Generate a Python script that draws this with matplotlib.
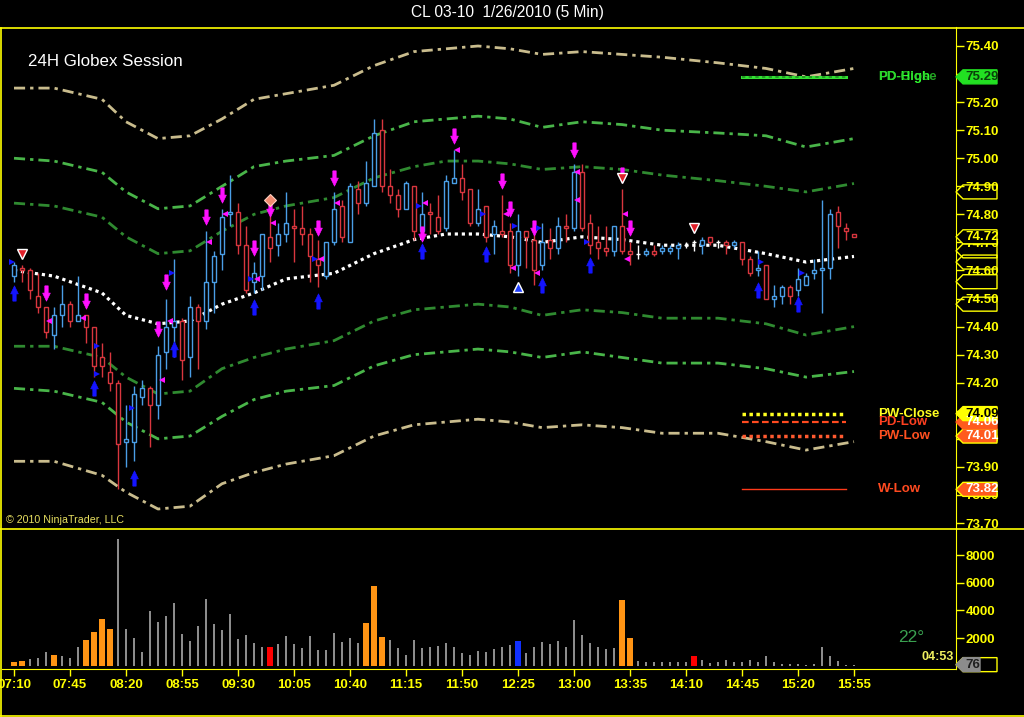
import numpy as np
import matplotlib
matplotlib.use("Agg")
import matplotlib.pyplot as plt
from matplotlib.patches import Polygon
from matplotlib.lines import Line2D
import matplotlib.transforms as mtrans

plt.rcParams['font.family'] = ['Liberation Sans', 'DejaVu Sans']

# ---- data (CL 03-10, 5 min bars from 07:10) ----
opens = [74.58, 74.61, 74.60, 74.51, 74.47, 74.37, 74.44, 74.48, 74.42, 74.44,
         74.40, 74.29, 74.24, 74.20, 73.99, 73.99, 74.15, 74.18, 74.12, 74.31,
         74.40, 74.42, 74.29, 74.47, 74.42, 74.56, 74.66, 74.80, 74.81, 74.69,
         74.56, 74.58, 74.72, 74.69, 74.73, 74.76, 74.75, 74.73, 74.64, 74.58,
         74.70, 74.83, 74.70, 74.89, 74.84, 74.90, 75.10, 74.90, 74.87, 74.82,
         74.90, 74.74, 74.81, 74.79, 74.75, 74.91, 74.93, 74.89, 74.77, 74.83,
         74.73, 74.74, 74.74, 74.62, 74.74, 74.71, 74.62, 74.71, 74.68, 74.76,
         74.75, 74.95, 74.77, 74.70, 74.68, 74.67, 74.76, 74.67, 74.66, 74.66,
         74.67, 74.67, 74.67, 74.68, 74.69, 74.70, 74.69, 74.72, 74.70, 74.70,
         74.69, 74.70, 74.64, 74.60, 74.62, 74.50, 74.51, 74.54, 74.53, 74.55,
         74.59, 74.60, 74.61, 74.81, 74.75, 74.73]
highs = [74.63, 74.62, 74.61, 74.59, 74.47, 74.47, 74.55, 74.49, 74.58, 74.44,
         74.40, 74.34, 74.31, 74.21, 74.12, 74.19, 74.21, 74.19, 74.33, 74.50,
         74.64, 74.43, 74.51, 74.48, 74.74, 74.67, 74.82, 74.94, 74.84, 74.76,
         74.63, 74.73, 74.82, 74.77, 74.88, 74.82, 74.83, 74.75, 74.71, 74.70,
         74.88, 74.85, 74.91, 74.92, 74.99, 75.14, 75.14, 74.96, 74.89, 74.92,
         74.90, 74.88, 74.84, 74.87, 74.94, 75.03, 74.98, 74.89, 74.89, 74.83,
         74.78, 74.87, 74.77, 74.80, 74.74, 74.73, 74.77, 74.75, 74.79, 74.80,
         74.98, 74.98, 74.80, 74.76, 74.76, 74.76, 74.89, 74.70, 74.69, 74.68,
         74.69, 74.69, 74.69, 74.70, 74.70, 74.71, 74.72, 74.72, 74.71, 74.71,
         74.71, 74.70, 74.65, 74.67, 74.62, 74.55, 74.55, 74.55, 74.61, 74.59,
         74.64, 74.85, 74.82, 74.83, 74.77, 74.73]
lows = [74.56, 74.56, 74.50, 74.45, 74.36, 74.32, 74.40, 74.40, 74.42, 74.34,
        74.22, 74.22, 74.17, 73.82, 73.90, 73.92, 74.12, 73.97, 74.07, 74.25,
        74.29, 74.21, 74.22, 74.25, 74.39, 74.45, 74.60, 74.76, 74.66, 74.52,
        74.52, 74.53, 74.63, 74.65, 74.70, 74.63, 74.69, 74.56, 74.54, 74.57,
        74.69, 74.70, 74.70, 74.80, 74.83, 74.90, 74.88, 74.84, 74.79, 74.82,
        74.71, 74.71, 74.73, 74.73, 74.74, 74.91, 74.85, 74.76, 74.76, 74.70,
        74.66, 74.72, 74.59, 74.58, 74.61, 74.55, 74.60, 74.64, 74.66, 74.70,
        74.74, 74.74, 74.66, 74.64, 74.65, 74.65, 74.66, 74.62, 74.64, 74.65,
        74.65, 74.66, 74.66, 74.64, 74.68, 74.67, 74.66, 74.69, 74.68, 74.66,
        74.68, 74.62, 74.58, 74.58, 74.50, 74.47, 74.48, 74.48, 74.51, 74.55,
        74.57, 74.45, 74.57, 74.68, 74.71, 74.72]
closes = [74.62, 74.60, 74.53, 74.47, 74.38, 74.44, 74.48, 74.42, 74.44, 74.40,
          74.26, 74.26, 74.20, 73.98, 74.00, 74.16, 74.18, 74.12, 74.30, 74.40,
          74.42, 74.28, 74.47, 74.42, 74.56, 74.65, 74.79, 74.81, 74.69, 74.53,
          74.59, 74.73, 74.68, 74.73, 74.77, 74.75, 74.73, 74.65, 74.62, 74.70,
          74.82, 74.72, 74.90, 74.84, 74.91, 75.09, 74.90, 74.87, 74.82, 74.91,
          74.74, 74.80, 74.80, 74.74, 74.92, 74.93, 74.88, 74.77, 74.82, 74.72,
          74.76, 74.73, 74.62, 74.74, 74.72, 74.60, 74.70, 74.68, 74.76, 74.75,
          74.95, 74.75, 74.69, 74.68, 74.67, 74.76, 74.67, 74.66, 74.66, 74.67,
          74.66, 74.68, 74.68, 74.69, 74.69, 74.70, 74.71, 74.70, 74.70, 74.69,
          74.70, 74.64, 74.59, 74.61, 74.50, 74.51, 74.54, 74.51, 74.57, 74.58,
          74.60, 74.61, 74.80, 74.76, 74.74, 74.72]
volumes = [290, 360, 460, 530, 1010, 795, 720, 580, 1370, 1880,
           2460, 3370, 2680, 9160, 2680, 2020, 1010, 3980, 3180, 3620,
           4550, 2310, 1810, 2890, 4840, 3040, 2550, 3710, 1950, 2240,
           1660, 1370, 1370, 1590, 2170, 1590, 1300, 2170, 1160, 1160,
           2390, 1740, 2020, 1660, 3110, 5780, 2100, 1880, 1300, 795,
           1880, 1300, 1370, 1450, 1660, 1370, 940, 795, 1080, 1010,
           1230, 1370, 1520, 1760, 940, 1370, 1740, 1590, 1810, 1370,
           3330, 2240, 1660, 1370, 1230, 1300, 4770, 2020, 360, 290,
           290, 290, 290, 290, 290, 720, 430, 220, 290, 430,
           290, 290, 430, 240, 720, 290, 145, 145, 145, 70,
           145, 1370, 720, 360, 70, 70]
vol_orange = [0, 1, 5, 9, 10, 11, 12, 44, 45, 46, 76, 77]
vol_red = [32, 85]
vol_blue = [63]

time_ticks = [0, 7, 14, 21, 28, 35, 42, 49, 56, 63, 70, 77, 84, 91, 98, 105]
time_labels = ['07:10', '07:45', '08:20', '08:55', '09:30', '10:05', '10:40', '11:15',
               '11:50', '12:25', '13:00', '13:35', '14:10', '14:45', '15:20', '15:55']

# bands sampled along the session
band_idx = [0, 5, 11, 14, 18, 22, 26, 30, 34, 40, 45, 50, 54, 58, 62, 66, 71, 76, 81, 88, 94, 99, 105]
band_mid = [74.60, 74.58, 74.52, 74.44, 74.41, 74.42, 74.48, 74.52, 74.57, 74.59, 74.66, 74.71,
            74.73, 74.73, 74.72, 74.70, 74.72, 74.71, 74.69, 74.69, 74.66, 74.63, 74.65]
up1 = [74.84, 74.83, 74.79, 74.72, 74.66, 74.67, 74.74, 74.80, 74.83, 74.86, 74.93, 74.97,
       74.99, 74.99, 74.98, 74.96, 74.97, 74.96, 74.94, 74.92, 74.90, 74.88, 74.91]
up2 = [75.00, 74.99, 74.95, 74.88, 74.82, 74.83, 74.90, 74.97, 74.99, 75.01, 75.08, 75.13,
       75.14, 75.15, 75.14, 75.11, 75.13, 75.12, 75.10, 75.09, 75.08, 75.04, 75.07]
up3 = [75.25, 75.25, 75.21, 75.13, 75.07, 75.08, 75.14, 75.21, 75.23, 75.26, 75.33, 75.38,
       75.39, 75.40, 75.39, 75.37, 75.38, 75.37, 75.36, 75.34, 75.32, 75.29, 75.32]
lo1 = [74.33, 74.33, 74.29, 74.22, 74.16, 74.17, 74.25, 74.29, 74.32, 74.35, 74.42, 74.46,
       74.47, 74.48, 74.47, 74.44, 74.46, 74.45, 74.43, 74.43, 74.41, 74.37, 74.40]
lo2 = [74.18, 74.17, 74.13, 74.06, 74.00, 74.01, 74.08, 74.14, 74.17, 74.19, 74.26, 74.30,
       74.31, 74.32, 74.31, 74.29, 74.31, 74.29, 74.27, 74.27, 74.25, 74.22, 74.24]
lo3 = [73.92, 73.92, 73.87, 73.81, 73.75, 73.76, 73.84, 73.88, 73.91, 73.94, 74.01, 74.05,
       74.06, 74.07, 74.06, 74.04, 74.05, 74.04, 74.02, 74.02, 73.99, 73.96, 73.99]

# signal markers: (bar, price)
down_arrows = [(4, 74.52), (9, 74.49), (18, 74.39), (19, 74.56), (24, 74.79), (26, 74.87),
               (30, 74.68), (32, 74.82), (38, 74.75), (40, 74.93), (51, 74.73), (55, 75.08),
               (61, 74.92), (62, 74.82), (65, 74.75), (70, 75.03), (76, 74.94), (77, 74.75)]
up_arrows = [(0, 74.52), (10, 74.18), (15, 73.86), (20, 74.32), (30, 74.47), (38, 74.49),
             (51, 74.67), (59, 74.66), (66, 74.55), (72, 74.62), (93, 74.53), (98, 74.48)]
pink_flags = [(4.4, 74.42), (8.6, 74.43), (18.5, 74.21), (19.5, 74.42), (24.4, 74.70),
              (26.4, 74.80), (30.4, 74.57), (32.4, 74.77), (38.4, 74.64), (40.4, 74.84),
              (51.4, 74.84), (55.4, 75.03), (61.5, 74.80), (62.4, 74.61), (65.4, 74.59),
              (70.4, 74.95), (70.4, 74.85), (76.4, 74.80), (76.6, 74.64)]
blue_flags = [(-0.25, 74.63), (10.4, 74.33), (10.4, 74.23), (14.75, 74.11), (19.75, 74.59),
              (29.6, 74.57), (37.6, 74.64), (50.6, 74.83), (58.6, 74.80), (62.6, 74.76),
              (65.6, 74.75), (71.6, 74.70), (93.4, 74.63), (98.5, 74.59)]
red_tri = [(1, 74.66), (76, 74.93), (85, 74.75)]
blue_tri = [(63, 74.54)]
diamond = [(32, 74.85)]

# prior-period levels
levels = [('PD-High', 75.29), ('PD-Close', 75.29), ('PW-Close', 74.09),
          ('PD-Low', 74.06), ('PW-Low', 74.01), ('W-Low', 73.82)]
last_price = 74.72
last_volume = 76
side_tags = [74.88, 74.67, 74.63, 74.56, 74.48]

# ---- figure ----
W, H = 1024, 717
YEL = '#ffff00'
fig = plt.figure(figsize=(W / 100, H / 100), dpi=100, facecolor='black')


def frac(x0, y0, x1, y1):
    return [x0 / W, 1 - y1 / H, (x1 - x0) / W, (y1 - y0) / H]


ax = fig.add_axes(frac(2, 27, 956, 528), facecolor='black')
vax = fig.add_axes(frac(2, 528, 956, 669), facecolor='black')

ax.set_xlim(-1.5, 117.75)
ax.set_ylim(73.6823, 75.4677)
vax.set_xlim(-1.5, 117.75)
vax.set_ylim(-239, 9956)

x = np.arange(len(closes))
o = np.array(opens)
c = np.array(closes)
ccol = np.where(c > o, '#4a9ee6', np.where(c < o, '#d9363e', '#ffffff'))

# bands
dashdot = (0, (4, 1.8, 1.2, 1.8))
ax.plot(band_idx, up3, color='#c9bc8d', lw=2, ls=dashdot, zorder=2)
ax.plot(band_idx, lo3, color='#c9bc8d', lw=2, ls=dashdot, zorder=2)
ax.plot(band_idx, up2, color='#49b549', lw=2, ls=dashdot, zorder=2)
ax.plot(band_idx, lo2, color='#49b549', lw=2, ls=dashdot, zorder=2)
ax.plot(band_idx, up1, color='#2f8a30', lw=2, ls=dashdot, zorder=2)
ax.plot(band_idx, lo1, color='#2f8a30', lw=2, ls=dashdot, zorder=2)
ax.plot(band_idx, band_mid, color='white', lw=2.3, ls=(0, (1, 1.2)), zorder=2)

# candles
ax.vlines(x, lows, highs, colors=ccol, lw=1, zorder=3)
ax.bar(x, np.abs(c - o), bottom=np.minimum(o, c), width=0.62, facecolor='black',
       edgecolor=ccol, linewidth=1, zorder=4)

# markers
dn_shape = [(-0.22, 1), (0.22, 1), (0.22, 0.05), (0.5, 0.05), (0, -1), (-0.5, 0.05), (-0.22, 0.05), (-0.22, 1)]
up_shape = [(px, -py) for px, py in dn_shape]
ax.plot([p[0] for p in down_arrows], [p[1] for p in down_arrows], ls='none', marker=dn_shape,
        ms=11, mfc='#ff10ff', mec='#ff10ff', mew=0.5, zorder=6)
ax.plot([p[0] for p in up_arrows], [p[1] for p in up_arrows], ls='none', marker=up_shape,
        ms=11, mfc='#1414ff', mec='#1414ff', mew=0.5, zorder=6)
ax.plot([p[0] for p in pink_flags], [p[1] for p in pink_flags], ls='none', marker='<',
        ms=5, mfc='#ff10ff', mec='#ff10ff', mew=0, zorder=6)
ax.plot([p[0] for p in blue_flags], [p[1] for p in blue_flags], ls='none', marker='>',
        ms=5, mfc='#1414ff', mec='#1414ff', mew=0, zorder=6)
ax.plot([p[0] for p in red_tri], [p[1] for p in red_tri], ls='none', marker='v',
        ms=7, mfc='#e0202a', mec='white', mew=1, zorder=7)
ax.plot([p[0] for p in blue_tri], [p[1] for p in blue_tri], ls='none', marker='^',
        ms=7, mfc='#2040ff', mec='white', mew=1, zorder=7)
ax.plot([p[0] for p in diamond], [p[1] for p in diamond], ls='none', marker='D',
        ms=6, mfc='#f08a70', mec='#ffd0c0', mew=0.8, zorder=7)

# level lines at the right
seg = [91, 104]
lab_x = 108
lvl = dict(levels)
ax.plot(seg, [lvl['PD-High']] * 2, color='#33e033', lw=2.2, zorder=5)
ax.plot(seg, [lvl['PD-Close']] * 2, color='#1f8f1f', lw=1.2, ls=(0, (2, 2)), zorder=5)
ax.plot(seg, [lvl['PW-Close']] * 2, color='#ffff20', lw=2.5, ls=(0, (1, 1)), zorder=5)
ax.plot(seg, [lvl['PD-Low']] * 2, color='#ff4a20', lw=1.6, ls=(0, (3, 1.5)), zorder=5)
ax.plot(seg, [lvl['PW-Low']] * 2, color='#ff5a30', lw=2.5, ls=(0, (1, 1)), zorder=5)
ax.plot(seg, [lvl['W-Low']] * 2, color='#ff3a1a', lw=1, zorder=5)
lab_style = dict(fontsize=9.5, fontweight='bold', va='center', ha='left', zorder=8)
ax.text(lab_x, lvl['PD-High'], 'PD-High', color='#30ff30', **lab_style)
ax.text(lab_x, lvl['PD-Close'], 'PD-Close', color='#2ccf2c', alpha=0.8, **lab_style)
ax.text(lab_x, lvl['PW-Close'], 'PW-Close', color='#ffff20', **lab_style)
ax.text(lab_x, lvl['PD-Low'], 'PD-Low', color='#ff4020', **lab_style)
ax.text(lab_x, lvl['PW-Low'], 'PW-Low', color='#ff5020', **lab_style)
ax.text(lab_x, lvl['W-Low'], 'W-Low', color='#ff4a20', **lab_style)

# volume
vol = np.array(volumes)
vcol = {i: '#ff9414' for i in vol_orange}
vcol.update({i: '#ff0000' for i in vol_red})
vcol.update({i: '#1030ff' for i in vol_blue})
gray = [i for i in x if i not in vcol]
wide = sorted(vcol)
vax.bar(gray, vol[gray], width=0.3, color='#8c8c8c', zorder=3)
vax.bar(wide, vol[wide], width=0.75, color=[vcol[i] for i in wide], zorder=3)

# axes styling
tick_font = dict(fontsize=9.5, fontweight='bold')
for a in (ax, vax):
    for s in a.spines.values():
        s.set_visible(False)
    a.spines['right'].set_visible(True)
    a.spines['right'].set_color(YEL)
    a.yaxis.tick_right()
    a.tick_params(axis='y', colors=YEL, length=6, width=1, pad=1, labelsize=9.5)
ax.set_yticks(np.round(np.arange(73.70, 75.401, 0.10), 2))
ax.set_yticklabels(['%.2f' % v for v in np.arange(73.70, 75.401, 0.10)], **tick_font)
ax.set_xticks([])
vax.set_yticks([2000, 4000, 6000, 8000])
vax.set_yticklabels(['2000', '4000', '6000', '8000'], **tick_font)
vax.spines['bottom'].set_visible(True)
vax.spines['bottom'].set_color(YEL)
vax.set_xticks(time_ticks)
vax.set_xticklabels(time_labels, **tick_font)
vax.tick_params(axis='x', colors=YEL, length=5, width=1, pad=2)

# price tags on the axis
px_x = 1 / 954.0
px_p = 1 / 280.6
tr = mtrans.blended_transform_factory(ax.transAxes, ax.transData)


def price_tag(val, fc, ec, tc, txt):
    h = 7 * px_p
    pts = [(1.0, val), (1 + 7 * px_x, val + h), (1 + 41 * px_x, val + h),
           (1 + 41 * px_x, val - h), (1 + 7 * px_x, val - h)]
    ax.add_patch(Polygon(pts, closed=True, transform=tr, facecolor=fc, edgecolor=ec,
                         lw=1, clip_on=False, zorder=9))
    if txt:
        ax.text(1 + 9 * px_x, val, txt, transform=tr, color=tc, fontsize=9.5,
                fontweight='bold', va='center', ha='left', clip_on=False, zorder=10)


for v in side_tags:
    price_tag(v, 'none', YEL, YEL, '')
price_tag(last_price, 'black', YEL, YEL, '%.2f' % last_price)
price_tag(lvl['PD-High'], '#22e022', '#22e022', '#0a400a', '%.2f' % lvl['PD-High'])
price_tag(lvl['W-Low'], '#ff5a1e', YEL, 'white', '%.2f' % lvl['W-Low'])
price_tag(lvl['PW-Low'], '#ff5a1e', YEL, 'white', '%.2f' % lvl['PW-Low'])
price_tag(lvl['PD-Low'], '#ff5a1e', '#ff5a1e', 'white', '%.2f' % lvl['PD-Low'])
price_tag(lvl['PW-Close'], '#ffff00', YEL, 'black', '%.2f' % lvl['PW-Close'])

# volume tag
vtr = mtrans.blended_transform_factory(vax.transAxes, vax.transData)
vh = 7 * 72.3
vax.add_patch(Polygon([(1.0, last_volume), (1 + 7 * px_x, last_volume + vh),
                       (1 + 41 * px_x, last_volume + vh), (1 + 41 * px_x, last_volume - vh),
                       (1 + 7 * px_x, last_volume - vh)], closed=True, transform=vtr,
                      facecolor='none', edgecolor=YEL, lw=1, clip_on=False, zorder=9))
vax.add_patch(Polygon([(1.0, last_volume), (1 + 7 * px_x, last_volume + vh),
                       (1 + 24 * px_x, last_volume + vh), (1 + 24 * px_x, last_volume - vh),
                       (1 + 7 * px_x, last_volume - vh)], closed=True, transform=vtr,
                      facecolor='#8c8c8c', edgecolor='#8c8c8c', lw=1, clip_on=False, zorder=9))
vax.text(1 + 9 * px_x, last_volume, str(last_volume), transform=vtr, color='#202020',
         fontsize=9.5, fontweight='bold', va='center', ha='left', clip_on=False, zorder=10)


# frame lines
def fline(x0, y0, x1, y1):
    fig.add_artist(Line2D([x0 / W, x1 / W], [1 - y0 / H, 1 - y1 / H],
                          transform=fig.transFigure, color=YEL, lw=1.2))


fline(0, 27.5, 1024, 27.5)
fline(1, 27.5, 1, 715.5)
fline(0, 715.5, 1024, 715.5)
fline(0, 528.5, 1024, 528.5)

# texts
fig.text(507 / W, 1 - 13 / H, 'CL 03-10  1/26/2010 (5 Min)', color='white', fontsize=11.2,
         ha='center', va='center')
fig.text(28 / W, 1 - 61 / H, '24H Globex Session', color='white', fontsize=12.2,
         ha='left', va='center')
fig.text(6 / W, 1 - 520 / H, '\u00a9 2010 NinjaTrader, LLC', color='#e8e060', fontsize=7.7,
         ha='left', va='center')
fig.text(911 / W, 1 - 638 / H, '22\u00b0', color='#3aa050', fontsize=12.5,
         ha='center', va='center')
fig.text(938 / W, 1 - 657 / H, '04:53', color='#f0f060', fontsize=9, fontweight='bold',
         ha='center', va='center')

fig.savefig('out.png', dpi=100, facecolor='black')
